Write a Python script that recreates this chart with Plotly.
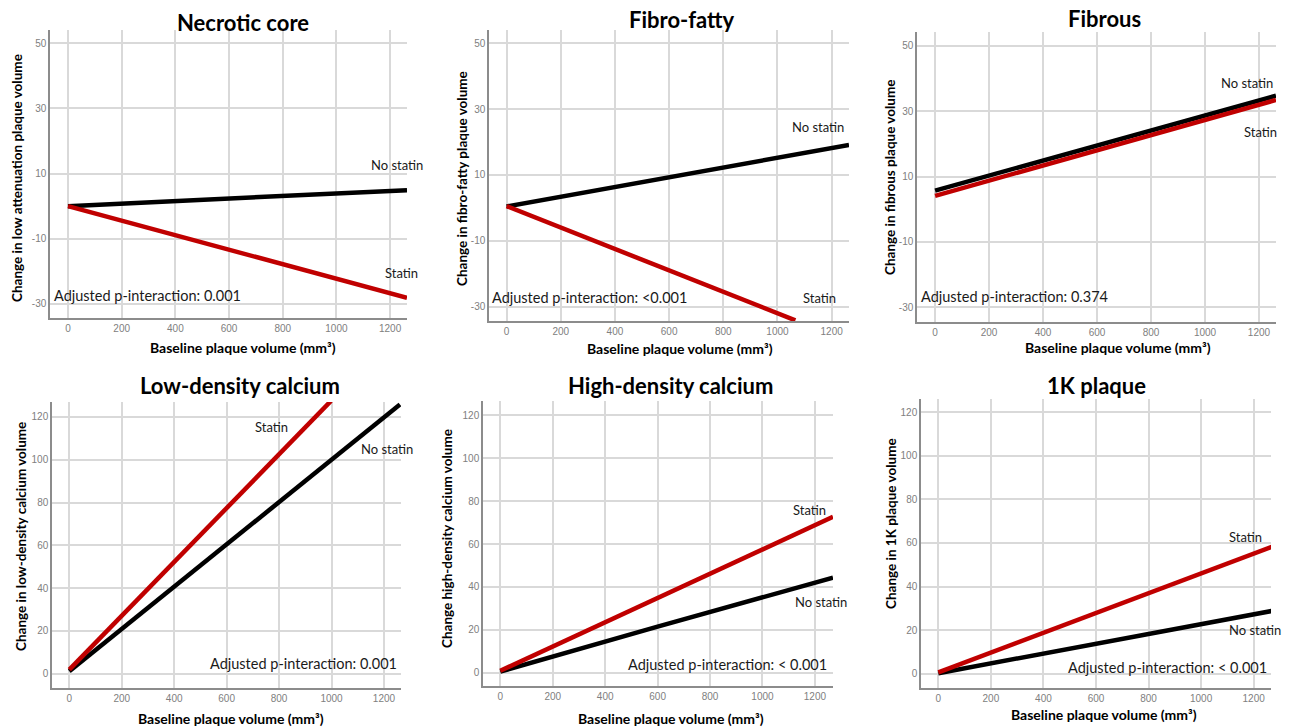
import plotly.graph_objects as go

W, H = 1292, 728

# ---------------- data ----------------
titles = ["Necrotic core", "Fibro-fatty", "Fibrous",
          "Low-density calcium", "High-density calcium", "1K plaque"]
ytitles = ["Change in low attenuation plaque volume",
           "Change in fibro-fatty plaque volume",
           "Change in fibrous plaque volume",
           "Change in low-density calcium volume",
           "Change high-density calcium volume",
           "Change in 1K plaque volume"]
pvals = ["Adjusted p-interaction: 0.001", "Adjusted p-interaction: <0.001",
         "Adjusted p-interaction: 0.374", "Adjusted p-interaction: 0.001",
         "Adjusted p-interaction: < 0.001", "Adjusted p-interaction: < 0.001"]

x_ticks = [0, 200, 400, 600, 800, 1000, 1200]
y_ticks_top = [-30, -10, 10, 30, 50]
y_ticks_bottom = [0, 20, 40, 60, 80, 100, 120]

# Necrotic core
nc_x_nostatin = [0, 1263]
nc_nostatin = [0.0, 4.9]
nc_x_statin = [0, 1263]
nc_statin = [0.0, -28.1]
# Fibro-fatty
ff_x_nostatin = [0, 1264]
ff_nostatin = [0.4, 19.1]
ff_x_statin = [0, 1066]
ff_statin = [0.5, -34.2]
# Fibrous
fb_x_nostatin = [0, 1263]
fb_nostatin = [5.7, 34.7]
fb_x_statin = [0, 1263]
fb_statin = [4.1, 33.4]
# Low-density calcium
ldc_x_nostatin = [0, 1261]
ldc_nostatin = [1.1, 125.8]
ldc_x_statin = [0, 998]
ldc_statin = [1.9, 127.5]
# High-density calcium
hdc_x_nostatin = [0, 600, 1269]
hdc_nostatin = [0.5, 21.5, 44.3]
hdc_x_statin = [0, 1269]
hdc_statin = [0.9, 72.7]
# 1K plaque
k1_x_nostatin = [0, 1270]
k1_nostatin = [0.2, 28.8]
k1_x_statin = [0, 1270]
k1_statin = [0.6, 58.3]

series = [
    (nc_x_nostatin, nc_nostatin, nc_x_statin, nc_statin),
    (ff_x_nostatin, ff_nostatin, ff_x_statin, ff_statin),
    (fb_x_nostatin, fb_nostatin, fb_x_statin, fb_statin),
    (ldc_x_nostatin, ldc_nostatin, ldc_x_statin, ldc_statin),
    (hdc_x_nostatin, hdc_nostatin, hdc_x_statin, hdc_statin),
    (k1_x_nostatin, k1_nostatin, k1_x_statin, k1_statin),
]

# ---------------- layout geometry (pixels) ----------------
# plot area: left, right, top, bottom
boxes = [(50, 407, 30, 318), (489, 849, 30, 321), (917, 1276, 32, 322),
         (52, 401, 402, 688), (483, 833, 401, 686), (921, 1271, 399, 688)]
xranges = [(-67, 1263), (-65, 1264), (-67, 1263),
           (-66, 1265), (-66, 1269), (-66, 1266)]
yranges = [(-34.3, 54), (-34.4, 54), (-34.5, 54.2),
           (-6.7, 127), (-6.2, 126.7), (-6.6, 126.1)]
title_pos = [(243, 22), (682, 19), (1104, 18), (240, 385), (670, 385), (1096, 385)]
ytitle_pos = [(17, 178), (462, 179), (890, 177), (21, 537), (447, 539), (891, 524)]
xtitle_pos = [(243, 347), (680, 348), (1118, 347), (231, 718), (671, 718), (1104, 714)]

# label positions in data coordinates: (x, y, xanchor)
nostatin_lbl = [(1226, 12.6, "center"), (1150, 24.6, "center"), (1156, 38.6, "center"),
                (1211, 105, "center"), (1224, 33.1, "center"), (1206, 19.9, "center")]
statin_lbl = [(1241, -20.6, "center"), (1156, -27.4, "center"), (1206, 23.6, "center"),
              (771, 115.3, "center"), (1179, 75.8, "center"), (1170, 62.8, "center")]
p_lbl = [(-60, -27.3, "left"), (-62, -27.4, "left"), (-59, -26.8, "left"),
         (1257, 4.7, "right"), (1253, 3.6, "right"), (1260, 2.9, "right")]

RED = "#c00000"
BLACK = "#000000"
GRID = "#d9d9d9"
AXIS = "#8c8c8c"
TXT_FONT = "Lato, Open Sans, sans-serif"
TICK_FONT = dict(family="Liberation Sans, Arial", size=10, color="#808080")

fig = go.Figure()
annotations = []

for i in range(6):
    n = i + 1
    xa = "x" if n == 1 else f"x{n}"
    ya = "y" if n == 1 else f"y{n}"
    xk = "xaxis" if n == 1 else f"xaxis{n}"
    yk = "yaxis" if n == 1 else f"yaxis{n}"
    l, r, t, b = boxes[i]
    xs_no, ys_no, xs_st, ys_st = series[i]

    fig.add_trace(go.Scatter(x=xs_no, y=ys_no, mode="lines", xaxis=xa, yaxis=ya,
                             line=dict(color=BLACK, width=4.5), showlegend=False,
                             hoverinfo="skip"))
    fig.add_trace(go.Scatter(x=xs_st, y=ys_st, mode="lines", xaxis=xa, yaxis=ya,
                             line=dict(color=RED, width=4.5), showlegend=False,
                             hoverinfo="skip"))

    yt = y_ticks_top if i < 3 else y_ticks_bottom
    fig.update_layout(**{
        xk: dict(domain=[l / W, r / W], anchor=ya, range=list(xranges[i]),
                 tickvals=x_ticks, ticktext=[str(v) for v in x_ticks],
                 showgrid=True, gridcolor=GRID, gridwidth=1.5,
                 zeroline=False, showline=True, linecolor=AXIS, linewidth=1.5,
                 ticks="", tickfont=TICK_FONT, fixedrange=True),
        yk: dict(domain=[1 - b / H, 1 - t / H], anchor=xa, range=list(yranges[i]),
                 tickvals=yt, ticktext=[str(v) for v in yt],
                 showgrid=True, gridcolor=GRID, gridwidth=1.5,
                 zeroline=False, showline=True, linecolor=AXIS, linewidth=1.5,
                 ticks="", tickfont=TICK_FONT, fixedrange=True),
    })

    tx, ty = title_pos[i]
    annotations.append(dict(text=f"<b>{titles[i]}</b>", x=tx / W, y=1 - ty / H,
                            xref="paper", yref="paper", showarrow=False,
                            xanchor="center", yanchor="middle",
                            font=dict(family=TXT_FONT, size=22, color="#000")))
    yx, yy = ytitle_pos[i]
    annotations.append(dict(text=f"<b>{ytitles[i]}</b>", x=yx / W, y=1 - yy / H,
                            xref="paper", yref="paper", showarrow=False, textangle=-90,
                            xanchor="center", yanchor="middle",
                            font=dict(family=TXT_FONT, size=13.5, color="#000")))
    xx, xy = xtitle_pos[i]
    annotations.append(dict(text="<b>Baseline plaque volume (mm³)</b>", x=xx / W,
                            y=1 - xy / H, xref="paper", yref="paper", showarrow=False,
                            xanchor="center", yanchor="middle",
                            font=dict(family=TXT_FONT, size=14, color="#000")))
    for (lx, ly, anc), txt in ((nostatin_lbl[i], "No statin"), (statin_lbl[i], "Statin"),
                               (p_lbl[i], pvals[i])):
        annotations.append(dict(text=txt, x=lx, y=ly, xref=xa, yref=ya, showarrow=False,
                                xanchor=anc, yanchor="middle",
                                font=dict(family=TXT_FONT,
                                          size=14.5 if txt.startswith("Adj") else 13,
                                          color="#1a1a1a")))

fig.update_layout(width=W, height=H, margin=dict(l=0, r=0, t=0, b=0),
                  paper_bgcolor="white", plot_bgcolor="white",
                  annotations=annotations, showlegend=False)

fig.write_html("out.html", config={"displayModeBar": False},
               post_script="document.body.style.margin='0px';"
                           "document.body.style.overflow='hidden';")
